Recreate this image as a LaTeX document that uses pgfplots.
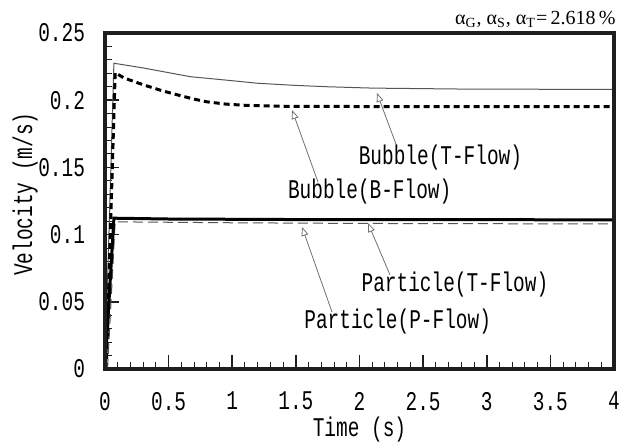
\documentclass[border=0pt]{standalone}
\usepackage{pgfplots}
\pgfplotsset{compat=1.18}
\usepackage{fontspec}
\setmainfont{Liberation Serif}
\newfontfamily\gothic[FakeStretch=0.72]{Liberation Mono}
\usetikzlibrary{arrows.meta}
\definecolor{thingray}{HTML}{555555}
\definecolor{arrgray}{HTML}{707070}
\definecolor{framec}{HTML}{1E1E1E}
\newcommand{\gfont}{\gothic\fontsize{13.5bp}{15bp}\selectfont}
\begin{document}
\begin{tikzpicture}
\path[use as bounding box] (-52.5bp,-36.5bp) rectangle (258.5bp,184.5bp);
\begin{axis}[
 at={(0,0)}, anchor=south west,
 scale only axis, width=254.5bp, height=168bp,
 xmin=0, xmax=4, ymin=0, ymax=0.25,
 xtick={0,0.5,1,1.5,2,2.5,3,3.5,4},
 xticklabels={0,0.5,1,1.5,2,2.5,3,3.5,4},
 ytick={0,0.05,0.1,0.15,0.2,0.25},
 yticklabels={0,0.05,0.1,0.15,0.2,0.25},
 minor x tick num=4, minor y tick num=4,
 tick pos=left, tick align=inside,
 major tick length=7bp, minor tick length=3.5bp,
 axis line style={framec, line width=1.5bp},
 major tick style={framec, line width=0.8bp},
 minor tick style={framec, line width=0.5bp},
 ticklabel style={font=\gfont},
 xticklabel style={yshift=-8bp},
 yticklabel style={xshift=-6.5bp},
 xlabel={Time (s)}, ylabel={Velocity (m/s)},
 x label style={font=\gfont, at={(axis description cs:0.5,-0.2)}, anchor=base},
 y label style={font=\gfont, at={(axis description cs:-0.1434,0.52)}, anchor=base},
 clip=false,
]
% Bubble (T-Flow): thin solid
\addplot[thingray, line width=0.5bp] coordinates {
 (0,0) (0.07,0.2275) (0.3,0.224) (0.67,0.2175) (1.0,0.2145) (1.2,0.2126)
 (1.5,0.211) (1.75,0.2100) (2.1,0.209) (2.8,0.2083) (4,0.208)};
% Bubble (B-Flow): thick dashed
\addplot[black, line width=1.5bp, dash pattern=on 3bp off 2bp] coordinates {
 (0.01,0) (0.08,0.2205) (0.15,0.2165) (0.3,0.2115) (0.45,0.207) (0.6,0.2032)
 (0.7,0.2008) (0.8,0.1988) (0.95,0.1971) (1.1,0.1962) (1.45,0.1954) (2,0.1953) (4,0.1953)};
% Particle (P-Flow): thin dashed
\addplot[thingray, line width=0.5bp, dash pattern=on 5bp off 2.5bp] coordinates {
 (0.02,0) (0.08,0.1095) (1,0.1088) (2,0.1083) (4,0.1079)};
% Particle (T-Flow): thick solid
\addplot[black, line width=1.5bp] coordinates {
 (0,0) (0.07,0.1122) (0.5,0.1116) (1.5,0.1112) (4,0.111)};

% frame, drawn as filled strips
\fill[framec] ([xshift=-1bp,yshift=-1bp]rel axis cs:0,1) rectangle ([xshift=1bp,yshift=1bp]rel axis cs:1,1);
\fill[framec] ([xshift=-1bp,yshift=-1bp]rel axis cs:1,0) rectangle ([xshift=1bp,yshift=1bp]rel axis cs:1,1);
\fill[framec] ([xshift=-1bp,yshift=-1bp]rel axis cs:0,0) rectangle ([xshift=1bp,yshift=1bp]rel axis cs:1,0);
\fill[framec] ([xshift=-1bp,yshift=-1bp]rel axis cs:0,0) rectangle ([xshift=1bp,yshift=1bp]rel axis cs:0,1);

% annotations
\draw[arrgray, line width=0.4bp, -{Triangle[open,length=4.5bp,width=3.5bp]}] (axis cs:2.295,0.1652) -- (axis cs:2.137,0.2054);
\draw[arrgray, line width=0.4bp, -{Triangle[open,length=4.5bp,width=3.5bp]}] (axis cs:1.674,0.1391) -- (axis cs:1.47,0.1927);
\draw[arrgray, line width=0.4bp, -{Triangle[open,length=4.5bp,width=3.5bp]}] (axis cs:2.24,0.0699) -- (axis cs:2.067,0.1086);
\draw[arrgray, line width=0.4bp, -{Triangle[open,length=4.5bp,width=3.5bp]}] (axis cs:1.784,0.0424) -- (axis cs:1.548,0.1057);
\node[anchor=base, font=\gfont, inner sep=0pt] at (axis cs:2.636,0.1518) {Bubble(T-Flow)};
\node[anchor=base, font=\gfont, inner sep=0pt] at (axis cs:2.08,0.1272) {Bubble(B-Flow)};
\node[anchor=base, font=\gfont, inner sep=0pt] at (axis cs:2.75,0.0575) {Particle(T-Flow)};
\node[anchor=base, font=\gfont, inner sep=0pt] at (axis cs:2.30,0.0303) {Particle(P-Flow)};
\node[anchor=base east, font=\fontsize{10bp}{12bp}\selectfont, inner sep=0pt] at (axis description cs:1.004,1.024)
 {α\textsubscript{G}, α\textsubscript{S}, α\textsubscript{T}=\,2.618\,\%};
\end{axis}
\end{tikzpicture}
\end{document}
